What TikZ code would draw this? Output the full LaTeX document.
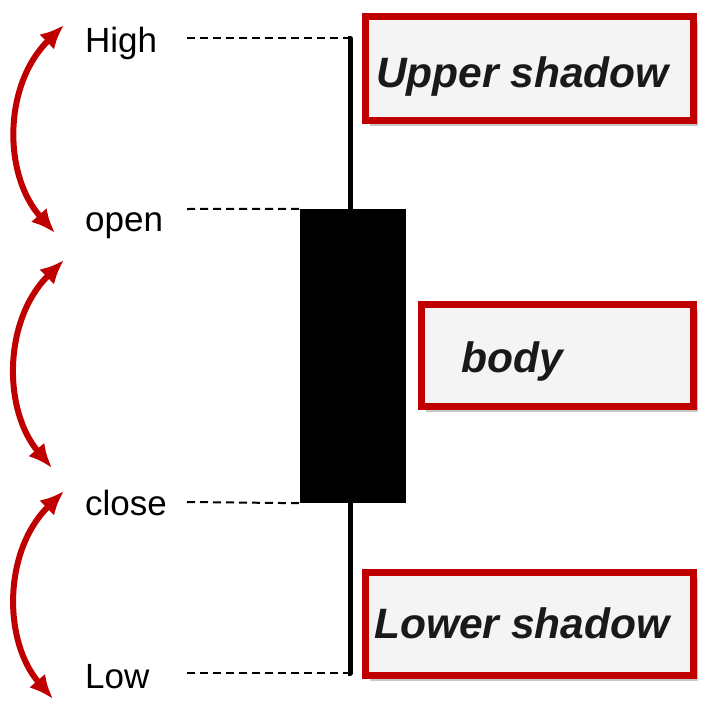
\documentclass[tikz,border=0pt]{standalone}
\usepackage{fontspec}
\setmainfont{Liberation Sans}
\usetikzlibrary{arrows.meta,shadows}
\definecolor{boxred}{RGB}{192,0,0}
\definecolor{boxfill}{RGB}{244,244,244}
\tikzset{
  lbl/.style={anchor=base west, inner sep=0pt, font=\fontsize{35}{40}\selectfont},
  dashline/.style={line width=2pt, dash pattern=on 8pt off 5pt},
  wick/.style={line width=5pt},
  tagbox/.style={draw=boxred, line width=7pt, fill=boxfill, inner sep=0pt,
    drop shadow={shadow xshift=4pt, shadow yshift=-5pt, opacity=0.22, fill=black}},
  tagtext/.style={anchor=base west, inner sep=0pt, font=\fontsize{42.5}{46}\bfseries\itshape\selectfont, text=black!90},
  redarc/.style={draw=boxred, line width=6pt, {Latex[length=24pt,width=21pt]}-{Latex[length=24pt,width=21pt]}},
}
\begin{document}
\begin{tikzpicture}[x=1pt,y=-1pt]
\useasboundingbox (0,0) rectangle (712,707);
\fill[white] (0,0) rectangle (712,707);
% labels
\node[lbl] (high) at (85,52) {High};
\node[lbl] (open) at (85,231) {open};
\node[lbl] (close) at (85,515) {close};
\node[lbl] (low) at (85,688) {Low};
% dashed guides and wick
\coordinate (hs) at (187,38);
\coordinate (os) at (187,209);
\coordinate (cs) at (187,502);
\coordinate (ls) at (187,673);
\coordinate (wt) at (350,38);
\coordinate (wb) at (350,673);
\node[fill=black, inner sep=0pt, minimum width=106pt, minimum height=294pt] (body) at (353,356) {};
\draw[dashline] (hs) -- (wt);
\draw[dashline] (os) -- (body.north west);
\draw[dashline] (cs) -- (body.south west);
\draw[dashline] (ls) -- (wb);
\draw[wick, line join=round] ([xshift=-2pt]wt) -- (wt) -- (body.north -| wt);
\draw[wick, line join=round] (body.south -| wt) -- (wb) -- ([xshift=-2pt]wb);
% tag boxes
\node[tagbox, minimum width=328pt, minimum height=104pt] (ubox) at (529.5,68.5) {};
\node[tagtext] (utext) at (376,87) {Upper shadow};
\node[tagbox, minimum width=272pt, minimum height=102pt] (bbox) at (557.5,355.5) {};
\node[tagtext] (btext) at (461,372) {body};
\node[tagbox, minimum width=328pt, minimum height=103pt] (lbox) at (529.5,624) {};
\node[tagtext] (ltext) at (374,638) {Lower shadow};
% red arrows
\coordinate (a1s) at (64,25);
\coordinate (a1e) at (55,233);
\coordinate (a2s) at (64,260);
\coordinate (a2e) at (52,468);
\coordinate (a3s) at (64,491);
\coordinate (a3e) at (53,699);
\draw[redarc] (a1s) .. controls (3,85) and (3,175) .. (a1e);
\draw[redarc] (a2s) .. controls (3,320) and (3,410) .. (a2e);
\draw[redarc] (a3s) .. controls (3,551) and (3,641) .. (a3e);
\end{tikzpicture}
\end{document}
